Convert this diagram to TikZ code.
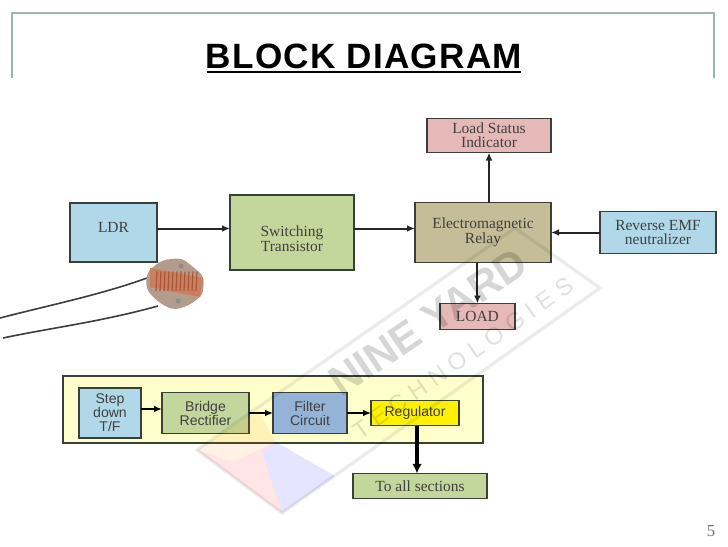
\documentclass[tikz,border=0pt]{standalone}
\usepackage{fontspec}
\setmainfont{Liberation Serif}
\newfontfamily\sansfont{Liberation Sans}
\newfontfamily\titlefont[LetterSpace=3.5]{Liberation Sans}
\usetikzlibrary{positioning, arrows.meta}
\definecolor{boxblue}{HTML}{B0D8E8}
\definecolor{boxgreen}{HTML}{C3D69B}
\definecolor{boxtan}{HTML}{C4BD97}
\definecolor{boxpink}{HTML}{E6B9B8}
\definecolor{boxfilter}{HTML}{95B3D7}
\definecolor{panelyellow}{HTML}{FFFFCC}
\definecolor{framecol}{HTML}{9DB5B2}
\definecolor{edgecol}{HTML}{3A3F38}
\definecolor{ldrbody}{HTML}{B39C8C}
\definecolor{ldrband}{HTML}{CC7F5E}
\definecolor{ldrline}{HTML}{A9553A}

\begin{document}
\begin{tikzpicture}[x=.25mm, y=-.25mm,
        block/.style={draw=edgecol, line width=.45mm, align=center, inner sep=0pt, outer sep=0pt, text=black!75,
            font=\fontsize{11}{10}\selectfont},
        psu/.style={block, font=\sansfont\fontsize{10}{10}\selectfont, line width=.4mm},
        conn/.style={-{Latex[length=2mm, width=1.7mm]}, draw=black!85, line width=.5mm},
        thick conn/.style={conn, draw=black, line width=.6mm}]
            \useasboundingbox (0,0) rectangle (728,546);

            \draw[framecol, line width=.3mm] (12,78) -- (12,13) -- (714,13) -- (714,78);
            \node (title) at (364,56) {\titlefont\bfseries\fontsize{25}{25}\selectfont BLOCK DIAGRAM};
            \draw[line width=.6mm] (207,72) -- (521,72);

            \node[block, fill=boxblue, minimum width=21.75mm, minimum height=14.75mm, text depth=2.5mm] (ldr) at (113.5,232.5) {LDR};
            \node[block, fill=boxgreen, minimum width=31mm, minimum height=18.75mm, right=18.25mm of ldr] (sw) {\rule{0pt}{5.8mm}Switching\\Transistor};
            \node[block, fill=boxtan, minimum width=34mm, minimum height=15mm, right=15.25mm of sw] (relay) {Electromagnetic\\Relay};
            \node[block, fill=boxblue, minimum width=29mm, minimum height=10.5mm, right=12.25mm of relay] (emf) {Reverse EMF\\neutralizer};
            \node[block, fill=boxpink, minimum width=31mm, minimum height=8.5mm, above=12.5mm of relay, xshift=1.5mm] (status) {Load Status\\Indicator};
            \node[block, fill=boxpink, minimum width=18.75mm, minimum height=6.5mm, below=10.25mm of relay, xshift=-1.4mm] (load) {LOAD};

            \draw[conn] ([yshift=1mm]ldr.east) -- ([yshift=1mm]sw.west);
            \draw[conn] ([yshift=1mm]sw.east) -- ([yshift=1mm]relay.west);
            \draw[conn] (emf.west) -- (relay.east);
            \draw[conn] (status.south |- relay.north) -- (status.south);
            \draw[conn] (load.north |- relay.south) -- (load.north);

            \draw[edgecol, line width=.4mm] (147,278) .. controls (100,295) and (50,305) .. (0,318);
            \draw[edgecol, line width=.4mm] (158,306) .. controls (100,322) and (50,328) .. (3,338);
            \fill[ldrbody, rounded corners=1.5mm] (147,272) -- (162,260) -- (182,258) -- (204,276) -- (203,295) -- (188,306) -- (173,310) -- (158,302) -- (146,289) -- cycle;
            \fill[ldrband] (150,268) -- (203,278) -- (200,297) -- (150,287) -- cycle;
            \foreach \xpos in {157,161,...,198}
                \draw[ldrline, line width=.3mm] (\xpos,271.5) -- (\xpos-1,291);
            \fill[black!45] (181,266) circle (2.5);
            \fill[black!45] (178,301) circle (2.5);

            \node[draw=edgecol, fill=panelyellow, line width=.4mm, minimum width=105mm, minimum height=16.75mm, inner sep=0pt, outer sep=0pt] (panel) at (273,409.5) {};
            \node[psu, fill=boxblue, minimum width=15.5mm, minimum height=12.5mm] (stepdown) at (110,413) {Step\\down\\T/F};
            \node[psu, fill=boxgreen, minimum width=21.75mm, minimum height=10.25mm, right=5.25mm of stepdown] (bridge) {Bridge\\Rectifier};
            \node[psu, fill=boxfilter, minimum width=18.5mm, minimum height=10.25mm, right=6mm of bridge] (filter) {Filter\\Circuit};
            \node[psu, fill=yellow, minimum width=22mm, minimum height=6.25mm, right=6mm of filter] (reg) {Regulator};
            \node[block, fill=boxgreen, minimum width=33.5mm, minimum height=6.25mm, below=12mm of reg, xshift=1.25mm] (sections) {To all sections};

            \draw[thick conn] ([yshift=1mm]stepdown.east) -- ([yshift=1mm]stepdown.east -| bridge.west);
            \draw[thick conn] (bridge.east) -- (filter.west);
            \draw[thick conn] (filter.east) -- (reg.west);
            \draw[thick conn, line width=.8mm, -{Latex[length=2.4mm, width=2.4mm]}] ([xshift=.5mm]reg.south) -- ([xshift=.5mm]reg.south |- sections.north);

            \begin{scope}[opacity=.1]
                \fill[orange] (197,450) -- (258,411) -- (276,442) -- (232,462) -- cycle;
                \fill[red] (197,450) -- (232,462) -- (276,442) -- (262,452) -- (282,513) -- cycle;
                \fill[blue] (276,442) -- (262,452) -- (282,513) -- (335,476) -- cycle;
            \end{scope}
            \draw[black, opacity=.08, line width=.8mm] (197,450) -- (515,228) -- (600,288) -- (282,513) -- cycle;
            \node[rotate=34, opacity=.16, text=black] (brand) at (428,322) {\sansfont\bfseries\fontsize{30}{30}\selectfont NINE YARD};
            \node[rotate=35, opacity=.12, text=black] (brandsub) at (463,358) {\sansfont\fontsize{17}{17}\selectfont T E C H N O L O G I E S};

            \node[text=black!55] (pageno) at (711,531) {\fontsize{12}{12}\selectfont 5};
        \end{tikzpicture}
\end{document}
